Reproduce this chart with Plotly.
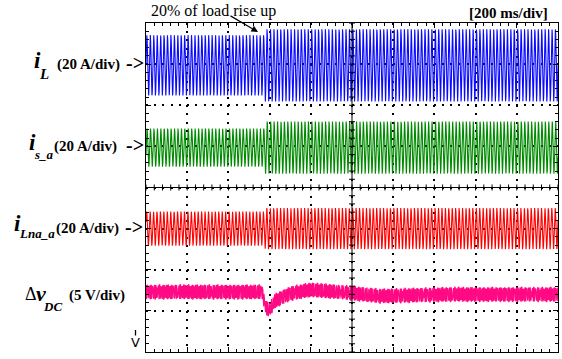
import numpy as np
import plotly.graph_objects as go

# ---------------- acquisition settings ----------------
TIME_PER_DIV_MS = 200
N_DIV_X = 10
N_DIV_Y = 8
LINE_FREQ_HZ = 60
RECORD_LENGTH = 2500
LOAD_STEP_MS = 578

# ---------------- current channels ----------------
channel_names = ["i_L", "i_s_a", "i_Lna_a"]
scale_A_per_div = [20, 20, 20]
offset_div = [2.97, 0.97, -1.0]
amp_before_A = [14.7, 9.3, 8.3]
amp_after_A = [17.6, 12.7, 10.0]
phase_rad = [0.0, -0.35, 0.4]
channel_colors = ["#0a0aff", "#008a00", "#ff0000"]

# ---------------- DC-link voltage deviation ----------------
vdc_scale_V_per_div = 5
vdc_offset_div = -2.54
vdc_t_ms = [0, 563, 580, 597, 626, 699, 796, 940, 1135, 1475, 2000]
vdc_mean_V = [0, 0, -1.8, -2.2, -1.1, -0.2, 0.25, 0.0, -0.5, -0.3, -0.3]
vdc_ripple_harmonics = [2, 6]
vdc_ripple_V = [0.6, 0.55]
vdc_color = "#ff0a84"

# ---------------- screen geometry (pixels) ----------------
W, H = 562, 359
L, R, T, B = 146, 4, 23, 7
PW, PH = W - L - R, H - T - B
T_END = TIME_PER_DIV_MS * N_DIV_X


def px(x):
    return (x - L) / PW


def py(y):
    return (H - B - y) / PH


t = np.linspace(0, T_END, RECORD_LENGTH)
w = 2 * np.pi * LINE_FREQ_HZ * t / 1000.0

fig = go.Figure()

for name, sc, off, a0, a1, ph, col in zip(channel_names, scale_A_per_div, offset_div,
                                          amp_before_A, amp_after_A, phase_rad, channel_colors):
    amp = np.where(t < LOAD_STEP_MS, a0, a1)
    current = amp * np.sin(w + ph)
    fig.add_trace(go.Scatter(x=t, y=off + current / sc, mode="lines", name=name,
                             line=dict(color=col, width=1.1), hoverinfo="skip",
                             showlegend=False))

vdc = np.interp(t, vdc_t_ms, vdc_mean_V)
for h, a in zip(vdc_ripple_harmonics, vdc_ripple_V):
    vdc = vdc + a * np.sin(h * w + h)
fig.add_trace(go.Scatter(x=t, y=vdc_offset_div + vdc / vdc_scale_V_per_div, mode="lines",
                         name="dv_DC", line=dict(color=vdc_color, width=1.1),
                         hoverinfo="skip", showlegend=False))

minor_dx = TIME_PER_DIV_MS / 5
minor_dy = 0.2
dot_gap = PH / N_DIV_Y / 5 - 2
axis_common = dict(showline=True, linecolor="black", linewidth=1, mirror="allticks",
                   ticks="inside", ticklen=5, tickcolor="black", showticklabels=False,
                   zeroline=False, showgrid=True, gridcolor="black", gridwidth=1.6,
                   griddash=f"2px,{dot_gap:.2f}px")
fig.update_xaxes(range=[0, T_END], dtick=TIME_PER_DIV_MS, tick0=0,
                 minor=dict(dtick=minor_dx, ticks="inside", ticklen=3,
                            tickcolor="black", showgrid=False),
                 **axis_common)
fig.update_yaxes(range=[-N_DIV_Y / 2, N_DIV_Y / 2], dtick=1, tick0=0,
                 minor=dict(dtick=minor_dy, ticks="inside", ticklen=3,
                            tickcolor="black", showgrid=False),
                 **axis_common)

# centre cross-hair with graduation marks
shapes = []
tc = T_END / 2
half_tick_y = 3 / (PH / N_DIV_Y)
half_tick_x = 3 / PW * T_END
shapes.append(dict(type="line", xref="x", yref="y", x0=0, x1=T_END, y0=0, y1=0,
                   line=dict(color="black", width=1)))
shapes.append(dict(type="line", xref="x", yref="y", x0=tc, x1=tc,
                   y0=-N_DIV_Y / 2, y1=N_DIV_Y / 2, line=dict(color="black", width=1)))
for k in range(N_DIV_X * 5 + 1):
    xk = k * minor_dx
    shapes.append(dict(type="line", xref="x", yref="y", x0=xk, x1=xk,
                       y0=-half_tick_y, y1=half_tick_y, line=dict(color="black", width=1)))
for k in range(N_DIV_Y * 5 + 1):
    yk = -N_DIV_Y / 2 + k * minor_dy
    shapes.append(dict(type="line", xref="x", yref="y", x0=tc - half_tick_x, x1=tc + half_tick_x,
                       y0=yk, y1=yk, line=dict(color="black", width=1)))
# ground marker stem
shapes.append(dict(type="line", xref="paper", yref="paper", x0=px(135.5), x1=px(135.5),
                   y0=py(330), y1=py(335.5), line=dict(color="black", width=1.3)))

SERIF = "Liberation Serif"
ann = []


def txt(text, x, y, size, xanchor="left", bold=True, italic=False, family=SERIF):
    s = text
    if italic:
        s = f"<i>{s}</i>"
    if bold:
        s = f"<b>{s}</b>"
    ann.append(dict(text=s, x=px(x), y=py(y), xref="paper", yref="paper",
                    xanchor=xanchor, yanchor="middle", showarrow=False,
                    font=dict(family=family, size=size, color="black")))


# channel labels
txt("i", 32, 61, 23, italic=True)
txt("L", 37, 74, 15, italic=True)
txt("(20 A/div)", 122, 65, 15, xanchor="right")
txt("-&gt;", 146, 63, 20, xanchor="right")

txt("i", 27, 142, 23, italic=True)
txt("s_a", 32, 154, 13, italic=True)
txt("(20 A/div)", 119, 146, 15, xanchor="right")
txt("-&gt;", 146, 145, 20, xanchor="right")

txt("i", 12, 223, 23, italic=True)
txt("Lna_a", 17, 233, 13, italic=True)
txt("(20 A/div)", 121, 228, 15, xanchor="right")
txt("-&gt;", 145, 227, 20, xanchor="right")

txt("Δ", 23, 294, 18, bold=False)
txt("v", 34, 293, 22, italic=True)
txt("DC", 41, 306, 13, italic=True)
txt("(5 V/div)", 127, 295, 15, xanchor="right")

txt("V", 135.5, 342, 13, xanchor="center", bold=False, family="DejaVu Sans")

# header texts
txt("20% of load rise up", 213.5, 11, 16, xanchor="center", bold=False)
txt("[200 ms/div]", 550, 13, 15, xanchor="right")

# arrow to the load step
ann.append(dict(text="", x=px(258), y=py(32), xref="paper", yref="paper",
                ax=-29, ay=-17, showarrow=True, arrowhead=2, arrowsize=1.1,
                arrowwidth=1.2, arrowcolor="black"))

fig.update_layout(width=W, height=H, autosize=False,
                  margin=dict(l=L, r=R, t=T, b=B, pad=0),
                  paper_bgcolor="white", plot_bgcolor="white",
                  shapes=shapes, annotations=ann)

fig.write_html("out.html")
